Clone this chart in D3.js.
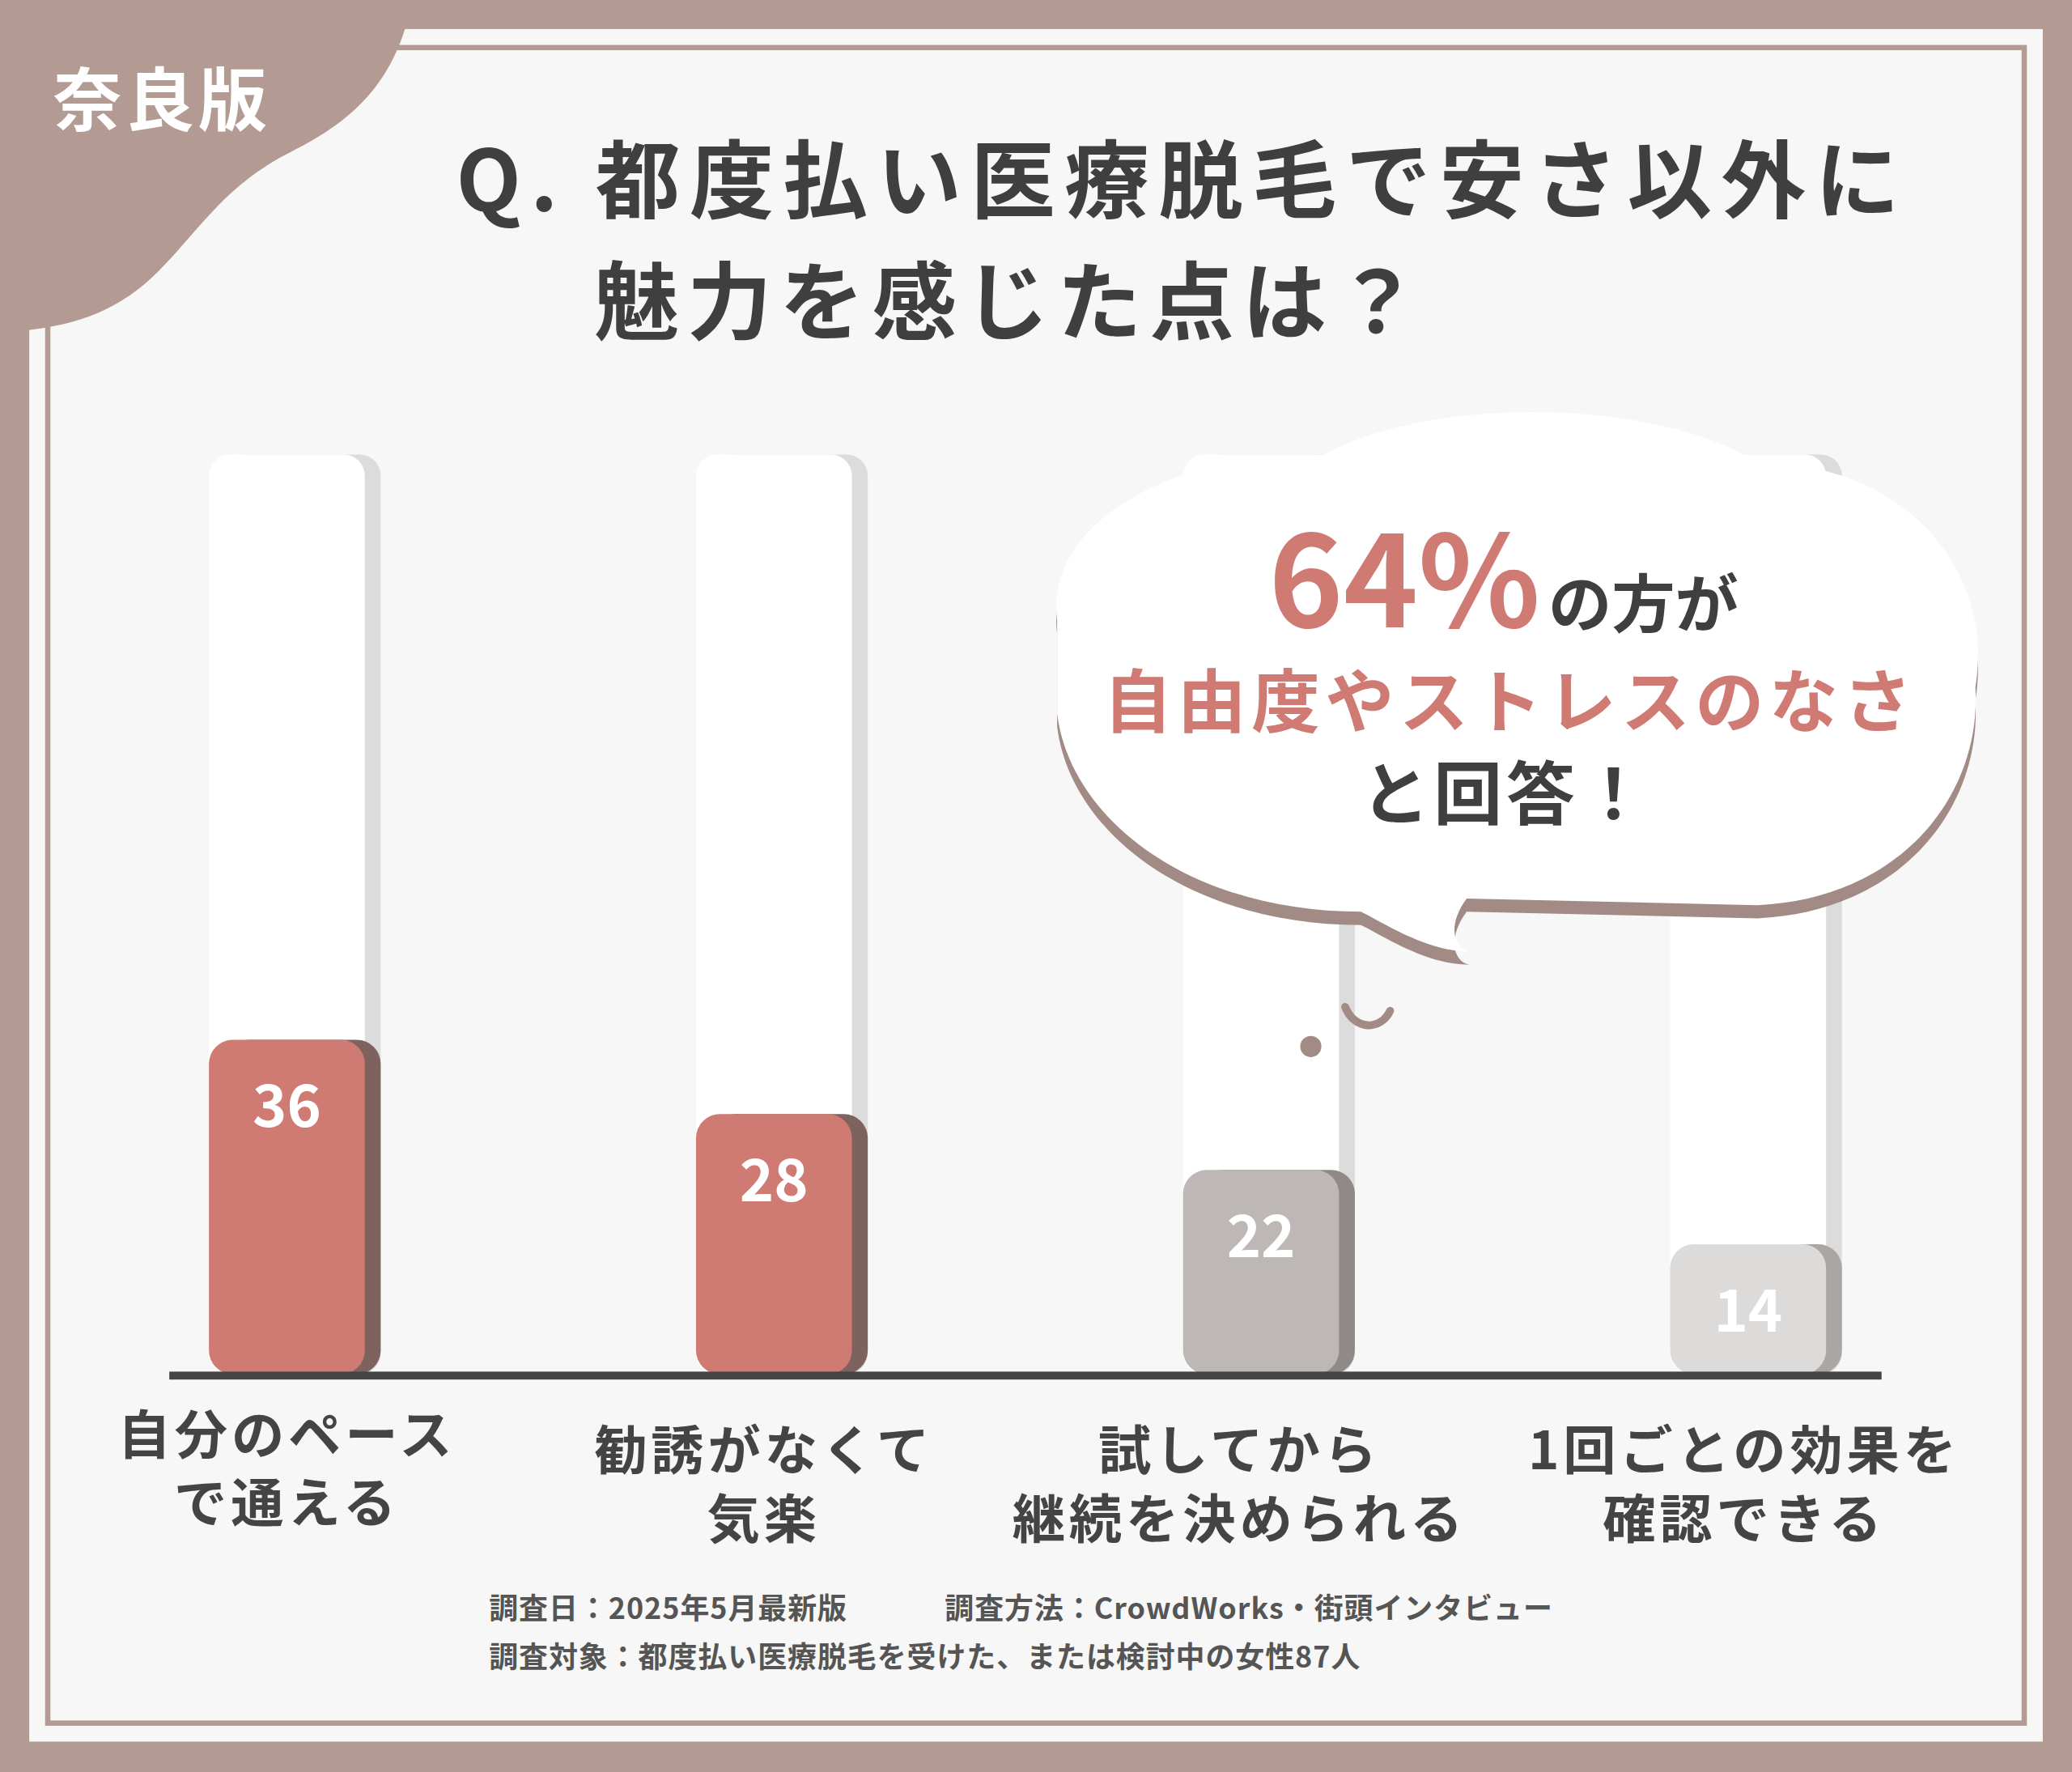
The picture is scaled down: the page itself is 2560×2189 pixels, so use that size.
<!DOCTYPE html>
<html><head><meta charset="utf-8">
<script src="https://cdn.jsdelivr.net/npm/d3@7"></script>
<style>body{margin:0;background:#b39a92}svg{display:block}</style>
</head><body>
<script>
var categories = [['自分のペース','で通える'],['勧誘がなくて','気楽'],['試してから','継続を決められる'],['1回ごとの効果を','確認できる']];
var values = [36, 28, 22, 14];
var fills = ['#d07a74','#d07a74','#bdb8b6','#dddbda'];
var shades = ['#7e625e','#7e625e','#8f8a88','#a9a6a4'];
var labelCenters = [217, 578, 938, 1320];

var W = 1568, H = 1341;
var font = '"Noto Sans CJK JP", sans-serif';
var svg = d3.select(document.body).append('svg')
  .attr('width', 2560).attr('height', 2189)
  .attr('viewBox', '0 0 ' + W + ' ' + H)
  .style('font-family', font);

svg.append('rect').attr('width', W).attr('height', H).attr('fill', '#b39a92');
svg.append('rect').attr('x', 22).attr('y', 22).attr('width', 1524).attr('height', 1296).attr('fill', '#f7f7f7');
svg.append('rect').attr('x', 36).attr('y', 36).attr('width', 1496).attr('height', 1268)
  .attr('fill', 'none').attr('stroke', '#b39a92').attr('stroke-width', 4);

// corner tab
svg.append('path').attr('fill', '#b39a92')
  .attr('d', 'M0,0 L312,0 C300,60 270,90 220,115 C170,140 150,175 120,205 C90,235 60,245 20,250 L0,252 Z');
svg.append('text').attr('x', 40).attr('y', 95).attr('fill', '#fff')
  .attr('font-size', 52).attr('font-weight', 700).attr('letter-spacing', 3).text('奈良版');

// title
svg.append('text').attr('x', 345).attr('y', 160).attr('fill', '#3f3f3f')
  .attr('font-size', 64).attr('font-weight', 700).attr('letter-spacing', 7).text('Q. 都度払い医療脱毛で安さ以外に');
svg.append('text').attr('x', 450).attr('y', 252).attr('fill', '#3f3f3f')
  .attr('font-size', 64).attr('font-weight', 700).attr('letter-spacing', 6).text('魅力を感じた点は？');

var x2 = d3.scaleLinear().domain([0, 3]).range([217, 1323]);
var y = d3.scaleLinear().domain([0, 100]).range([1040, 337]);
var bw = 118;

// pale background columns
var g = svg.append('g');
g.selectAll('.bg').data(values).join('rect')
  .attr('x', function (d, i) { return x2(i) - bw / 2 + 12; })
  .attr('y', y(99)).attr('width', bw).attr('height', y(0) - y(99))
  .attr('rx', 16).attr('fill', '#dcdcdc');
g.selectAll('.bg2').data(values).join('rect')
  .attr('x', function (d, i) { return x2(i) - bw / 2; })
  .attr('y', y(99)).attr('width', bw).attr('height', y(0) - y(99))
  .attr('rx', 16).attr('fill', '#ffffff');

// bars
g.selectAll('.sh').data(values).join('rect')
  .attr('x', function (d, i) { return x2(i) - bw / 2 + 12; })
  .attr('y', function (d) { return y(d); })
  .attr('width', bw).attr('height', function (d) { return y(0) - y(d); })
  .attr('rx', 18).attr('fill', function (d, i) { return shades[i]; });
g.selectAll('.bar').data(values).join('rect')
  .attr('x', function (d, i) { return x2(i) - bw / 2; })
  .attr('y', function (d) { return y(d); })
  .attr('width', bw).attr('height', function (d) { return y(0) - y(d); })
  .attr('rx', 18).attr('fill', function (d, i) { return fills[i]; });
g.selectAll('.val').data(values).join('text')
  .attr('x', function (d, i) { return x2(i); })
  .attr('y', function (d) { return y(d) + 66; })
  .attr('text-anchor', 'middle').attr('fill', '#fff')
  .attr('font-size', 44).attr('font-weight', 700).text(function (d) { return d; });

svg.append('rect').attr('x', 128).attr('y', 1038).attr('width', 1296).attr('height', 6).attr('fill', '#444');

// category labels
categories.forEach(function (c, i) {
  var t = svg.append('text').attr('text-anchor', 'middle').attr('fill', '#444')
    .attr('font-size', 40).attr('font-weight', 700).attr('letter-spacing', 3);
  var y0 = i === 0 ? 1100 : 1112;
  c.forEach(function (line, k) {
    t.append('tspan').attr('x', labelCenters[i]).attr('y', y0 + k * 52).text(line);
  });
});

// speech bubble
var cloud = 'M800,470 C790,390 900,340 1000,345 C1080,300 1250,300 1330,350 C1440,350 1510,430 1495,520 C1500,600 1440,680 1330,685 L1110,680 C1095,700 1100,718 1112,720 C1080,720 1050,700 1030,690 C900,690 810,620 800,540 Z';
svg.append('path').attr('d', cloud).attr('fill', '#a38b85').attr('transform', 'translate(0,10)');
svg.append('path').attr('d', cloud).attr('fill', '#ffffff');
svg.append('path').attr('d', 'M1018,762 C1025,780 1045,780 1052,765').attr('fill', 'none').attr('stroke', '#a38b85').attr('stroke-width', 6).attr('stroke-linecap', 'round');
svg.append('circle').attr('cx', 992).attr('cy', 792).attr('r', 8).attr('fill', '#a38b85');

var t1 = svg.append('text').attr('x', 960).attr('y', 475).attr('font-weight', 700);
t1.append('tspan').attr('fill', '#d07a74').attr('font-size', 96).text('64%');
t1.append('tspan').attr('fill', '#3f3f3f').attr('font-size', 48).attr('dx', 6).text('の方が');
svg.append('text').attr('x', 1143).attr('y', 550).attr('text-anchor', 'middle').attr('fill', '#d07a74')
  .attr('font-size', 52).attr('font-weight', 700).attr('letter-spacing', 4).text('自由度やストレスのなさ');
svg.append('text').attr('x', 1140).attr('y', 620).attr('text-anchor', 'middle').attr('fill', '#3f3f3f')
  .attr('font-size', 52).attr('font-weight', 700).attr('letter-spacing', 3).text('と回答！');

// footnotes
svg.append('text').attr('x', 370).attr('y', 1225).attr('fill', '#555').attr('font-size', 22).attr('font-weight', 700)
  .attr('letter-spacing', 0.6).text('調査日：2025年5月最新版');
svg.append('text').attr('x', 715).attr('y', 1225).attr('fill', '#555').attr('font-size', 22).attr('font-weight', 700)
  .attr('letter-spacing', 0.6).text('調査方法：CrowdWorks・街頭インタビュー');
svg.append('text').attr('x', 370).attr('y', 1262).attr('fill', '#555').attr('font-size', 22).attr('font-weight', 700)
  .attr('letter-spacing', 0.6).text('調査対象：都度払い医療脱毛を受けた、または検討中の女性87人');
</script>
</body></html>
